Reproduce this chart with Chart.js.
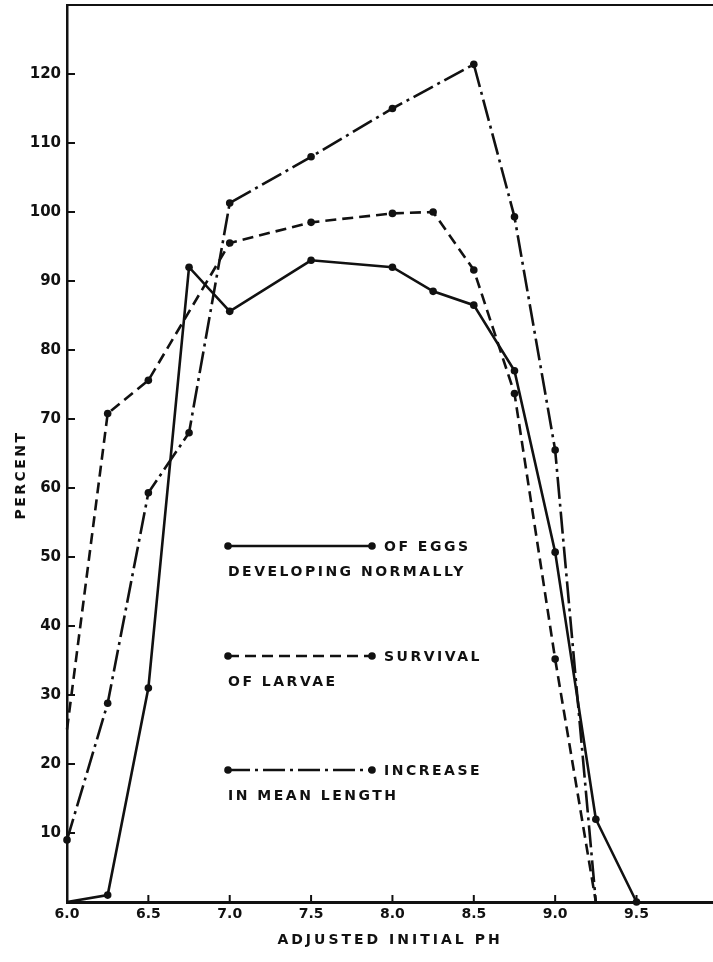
<!DOCTYPE html>
<html>
<head>
<meta charset="utf-8">
<script src="https://cdn.jsdelivr.net/npm/chart.js@4"></script>
<style>
  body { margin: 0; background: #fff; }
  #grafico { display: block; }
</style>
</head>
<body>
<canvas id="grafico" width="713" height="962"></canvas>
<script>
// valori
var ph_uova = [6.0, 6.25, 6.5, 6.75, 7.0, 7.5, 8.0, 8.25, 8.5, 8.75, 9.0, 9.25, 9.5];
var uova_normali = [0, 1, 31, 92, 85.6, 93, 92, 88.5, 86.5, 77, 50.7, 12, 0];

var ph_larve = [6.0, 6.25, 6.5, 7.0, 7.5, 8.0, 8.25, 8.5, 8.75, 9.0, 9.25];
var sopravvivenza_larve = [25, 70.8, 75.6, 95.5, 98.5, 99.8, 100, 91.6, 73.7, 35.2, 0];

var ph_lunghezza = [6.0, 6.25, 6.5, 6.75, 7.0, 7.5, 8.0, 8.5, 8.75, 9.0, 9.25];
var aumento_lunghezza = [9, 28.8, 59.3, 68, 101.3, 108, 115, 121.4, 99.3, 65.5, 0];

var tick_x = [6.0, 6.5, 7.0, 7.5, 8.0, 8.5, 9.0, 9.5];
var tick_y = [10, 20, 30, 40, 50, 60, 70, 80, 90, 100, 110, 120];

var legenda = [
  ['OF EGGS', 'DEVELOPING NORMALLY'],
  ['SURVIVAL', 'OF LARVAE'],
  ['INCREASE', 'IN MEAN LENGTH']
];

var NERO = '#111';
var FONT = 'DejaVu Sans';
var tratteggio = [[], [11, 6], [22, 5, 3, 5]];

function punti(xs, ys) {
  var out = [];
  for (var i = 0; i < xs.length; i++) {
    out.push({x: xs[i], y: ys[i]});
  }
  return out;
}

// raggio 0 per i punti nascosti sugli assi
function raggio(nascosti) {
  return function(ctx) {
    return nascosti.includes(ctx.dataIndex) ? 0 : 3.8;
  };
}

function serie(xs, ys, dash, nascosti) {
  return {
    data: punti(xs, ys),
    borderColor: NERO,
    borderWidth: 2.6,
    borderDash: dash,
    pointRadius: raggio(nascosti),
    pointBackgroundColor: NERO,
    pointBorderWidth: 0,
    tension: 0,
    clip: false
  };
}

// tacche interne, bordo superiore, titoli e legenda
var decorazioni = {
  id: 'decorazioni',
  afterDraw: function(chart) {
    var ctx = chart.ctx;
    var area = chart.chartArea;
    var sx = chart.scales.x;
    var sy = chart.scales.y;
    ctx.save();
    ctx.strokeStyle = NERO;
    ctx.fillStyle = NERO;
    ctx.setLineDash([]);

    ctx.lineWidth = 2;
    ctx.beginPath();
    ctx.moveTo(area.left, area.top);
    ctx.lineTo(area.right, area.top);
    ctx.stroke();

    ctx.lineWidth = 2;
    tick_y.forEach(function(v) {
      var py = sy.getPixelForValue(v);
      ctx.beginPath();
      ctx.moveTo(area.left, py);
      ctx.lineTo(area.left + 8, py);
      ctx.stroke();
    });
    tick_x.forEach(function(v) {
      if (v === sx.min) return;
      var px = sx.getPixelForValue(v);
      ctx.beginPath();
      ctx.moveTo(px, area.bottom);
      ctx.lineTo(px, area.bottom - 7);
      ctx.stroke();
    });

    ctx.font = 'bold 14px "' + FONT + '"';
    ctx.letterSpacing = '3px';
    ctx.textAlign = 'center';
    ctx.textBaseline = 'middle';
    ctx.fillText('ADJUSTED INITIAL PH', (area.left + area.right) / 2, 940);

    ctx.save();
    ctx.translate(21, 475);
    ctx.rotate(-Math.PI / 2);
    ctx.font = 'bold 14px "' + FONT + '"';
    ctx.letterSpacing = '2.5px';
    ctx.fillText('PERCENT', 0, 0);
    ctx.restore();

    // legenda disegnata dentro il grafico
    var righe = [546, 656, 770];
    var x0 = 228, x1 = 372;
    ctx.letterSpacing = '2.5px';
    ctx.font = 'bold 14px "' + FONT + '"';
    ctx.textAlign = 'left';
    for (var i = 0; i < righe.length; i++) {
      var y = righe[i];
      ctx.lineWidth = 2.6;
      ctx.setLineDash(tratteggio[i]);
      ctx.beginPath();
      ctx.moveTo(x0, y);
      ctx.lineTo(x1, y);
      ctx.stroke();
      ctx.setLineDash([]);
      [x0, x1].forEach(function(px) {
        ctx.beginPath();
        ctx.arc(px, y, 3.8, 0, Math.PI * 2);
        ctx.fill();
      });
      ctx.fillText(legenda[i][0], 384, y + 1);
      ctx.fillText(legenda[i][1], 228, y + 26);
    }
    ctx.restore();
  }
};

var grafico = new Chart(document.getElementById('grafico'), {
  type: 'line',
  data: {
    datasets: [
      serie(ph_uova, uova_normali, tratteggio[0], [0]),
      serie(ph_larve, sopravvivenza_larve, tratteggio[1], [0, ph_larve.length - 1]),
      serie(ph_lunghezza, aumento_lunghezza, tratteggio[2], [ph_lunghezza.length - 1])
    ]
  },
  options: {
    responsive: false,
    animation: false,
    devicePixelRatio: 1,
    layout: { autoPadding: false, padding: { top: 5, left: 0, right: 0, bottom: 0 } },
    plugins: {
      legend: { display: false },
      tooltip: { enabled: false }
    },
    scales: {
      x: {
        type: 'linear',
        min: 6.0,
        max: 9.97,
        grid: { display: false, drawTicks: false },
        border: { display: true, color: NERO, width: 3 },
        afterFit: function(scale) {
          scale.height = 60;
          scale.paddingLeft = 0;
          scale.paddingRight = 0;
        },
        ticks: {
          stepSize: 0.5,
          padding: 4,
          color: NERO,
          maxRotation: 0,
          autoSkip: false,
          font: { family: FONT, weight: 'bold', size: 14 },
          callback: function(v) {
            return tick_x.includes(v) ? v.toFixed(1) : '';
          }
        }
      },
      y: {
        type: 'linear',
        min: 0,
        max: 130,
        grid: { display: false, drawTicks: false },
        border: { display: true, color: NERO, width: 2.5 },
        afterFit: function(scale) {
          scale.width = 67;
          scale.paddingTop = 0;
          scale.paddingBottom = 0;
        },
        ticks: {
          stepSize: 10,
          padding: 6,
          color: NERO,
          font: { family: FONT, weight: 'bold', size: 15 },
          callback: function(v) {
            return tick_y.includes(v) ? v : '';
          }
        }
      }
    }
  },
  plugins: [decorazioni]
});
</script>
</body>
</html>
